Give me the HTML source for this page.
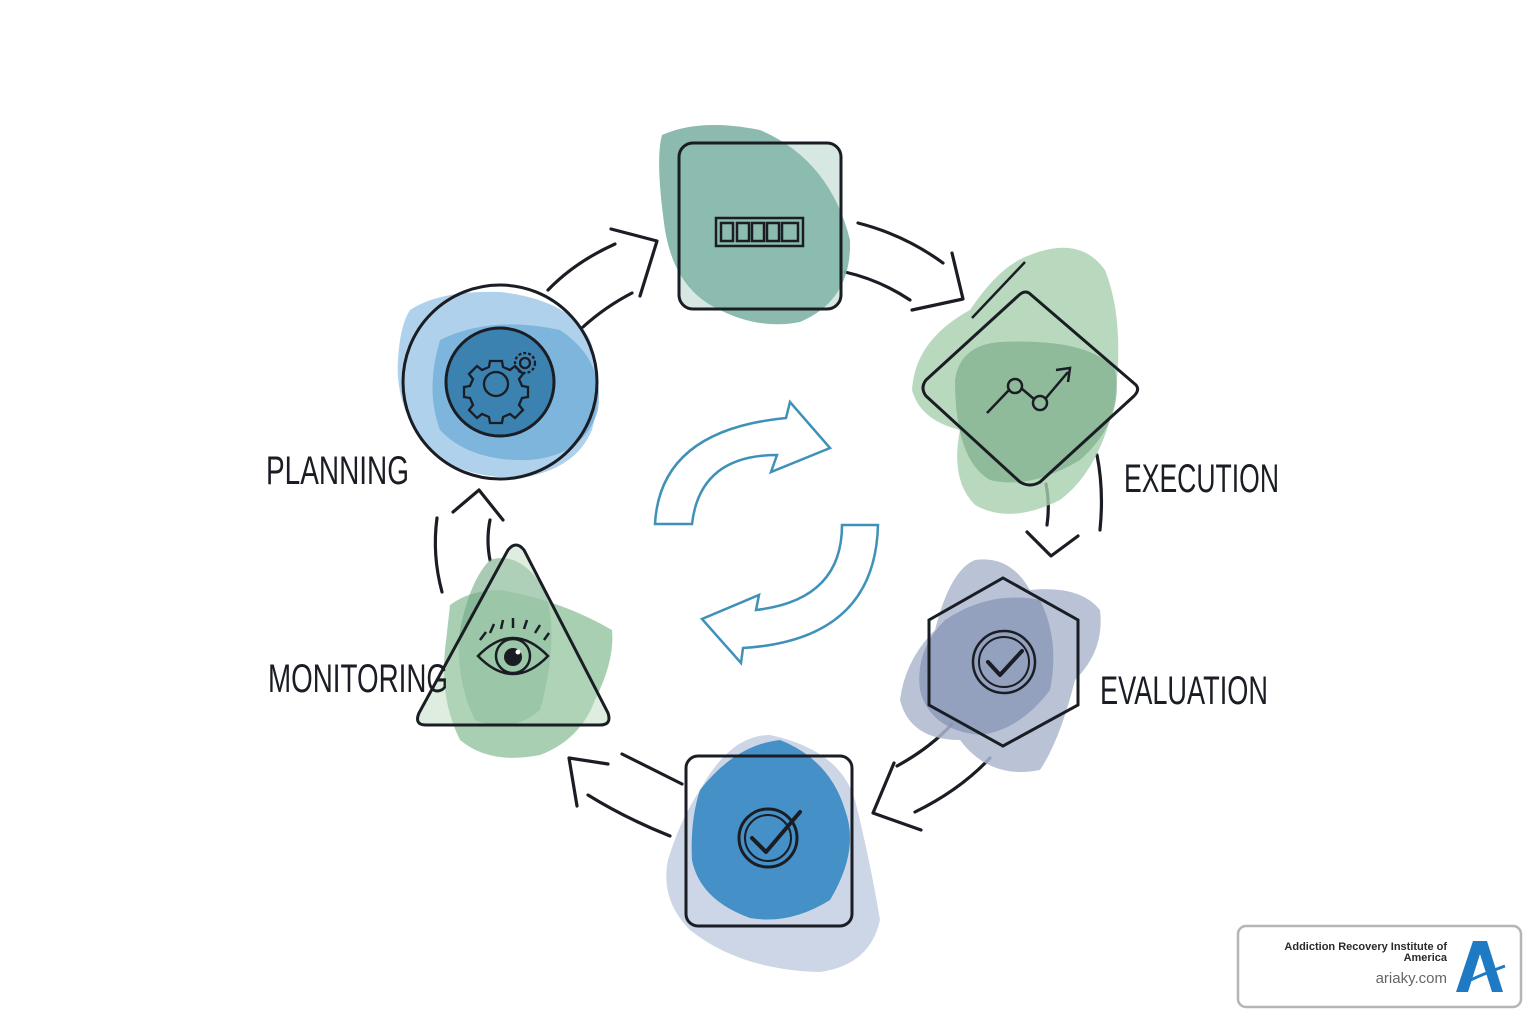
<!DOCTYPE html>
<html><head><meta charset="utf-8"><style>
html,body{margin:0;padding:0;background:#fff;}
svg{display:block}
.lbl{font-family:"Liberation Sans Narrow","Liberation Sans",sans-serif;font-size:40px;fill:#1a1d24;}
</style></head><body>
<svg width="1536" height="1024" viewBox="0 0 1536 1024" xmlns="http://www.w3.org/2000/svg">
<defs>
<filter id="sh" x="-20%" y="-20%" width="140%" height="140%"><feGaussianBlur stdDeviation="6"/></filter>
</defs>
<g fill="none" stroke="#1a1d24" stroke-width="3.2" stroke-linecap="round" stroke-linejoin="round">
<!-- connectors -->
<path d="M548 290 Q575 262 615 244"/>
<path d="M583 327 Q605 307 632 293"/>
<path d="M611 229 L657 241 L640 296"/>
<path d="M858 223 Q905 235 943 263"/>
<path d="M845 272 Q880 280 910 300"/>
<path d="M952 253 L963 299 L912 310"/>
<path d="M1046 484 Q1050 505 1047 525"/>
<path d="M1097 455 Q1104 490 1100 530"/>
<path d="M1027 532 L1051 556 L1078 536"/>
<path d="M952 724 Q930 748 897 766"/>
<path d="M990 758 Q960 790 915 812"/>
<path d="M894 763 L873 813 L921 830"/>
<path d="M682 784 Q650 768 622 754"/>
<path d="M670 836 Q625 818 588 795"/>
<path d="M569 758 L577 806 M569 758 L608 764"/>
<path d="M442 592 Q432 555 437 518"/>
<path d="M490 560 Q486 540 490 520"/>
<path d="M453 512 L479 490 L503 520"/>
</g>

<!-- top square blob -->
<path d="M662 135 Q700 118 760 130 Q830 160 850 240 Q852 300 800 322 Q760 330 720 310 Q675 290 665 230 Q655 160 662 135Z" fill="#7fb3a6" opacity="0.9"/>
<rect x="679" y="143" width="162" height="166" rx="14" fill="#8cbdaf" fill-opacity="0.35" stroke="#1a1d24" stroke-width="3"/>
<g fill="none" stroke="#1a1d24" stroke-width="2.5">
<rect x="716" y="218" width="87" height="28"/>
<rect x="721" y="223" width="12" height="18"/><rect x="737" y="223" width="12" height="18"/><rect x="752" y="223" width="12" height="18"/><rect x="767" y="223" width="12" height="18"/><rect x="782" y="223" width="16" height="18"/>
</g>

<!-- diamond blobs -->
<path d="M1030 255 Q1080 235 1105 270 Q1125 320 1115 400 Q1100 470 1060 500 Q1010 525 975 505 Q950 480 960 430 Q920 420 912 390 Q915 340 970 310 Q1000 265 1030 255Z" fill="#a8cfae" opacity="0.8"/>
<path d="M955 380 Q960 345 1000 342 Q1090 338 1115 370 Q1125 420 1080 460 Q1030 490 990 480 Q955 460 955 380Z" fill="#7fae8c" opacity="0.7"/>
<path d="M1029 293 L1136 385 Q1140 390 1134 396 L1040 482 Q1030 488 1020 482 L926 396 Q920 388 926 380 L1018 296 Q1024 290 1029 293Z" fill="none" stroke="#1a1d24" stroke-width="3"/>
<g fill="none" stroke="#1a1d24" stroke-width="2.5">
<path d="M987 413 L1009 390 M1021 388 L1034 399 M1046 398 L1068 372 M1056 370 L1070 368 L1068 382"/>
<circle cx="1015" cy="386" r="7"/><circle cx="1040" cy="403" r="7"/>
</g>
<path d="M1025 262 L972 318" stroke="#1a1d24" stroke-width="2.5"/>

<!-- planning -->
<path d="M410 310 Q440 290 500 292 Q570 300 590 340 Q605 380 592 430 Q575 470 520 478 Q450 478 420 440 Q395 400 398 360 Q400 325 410 310Z" fill="#9cc6e6" opacity="0.8"/>
<path d="M440 340 Q490 315 560 330 Q605 360 598 410 Q585 455 530 460 Q470 462 440 430 Q425 390 440 340Z" fill="#6aa9d6" opacity="0.7"/>
<circle cx="500" cy="382" r="97" fill="none" stroke="#1a1d24" stroke-width="3"/>
<circle cx="500" cy="382" r="54" fill="#3b82b0" stroke="#1a1d24" stroke-width="3"/>
<g fill="none" stroke="#1a1d24" stroke-width="2.3">
<circle cx="496" cy="384" r="12"/>
<path d="M490 361 L502 361 L503 367 L510 370 L515 366 L523 374 L519 379 L522 386 L528 387 L528 397 L522 398 L519 405 L523 410 L515 418 L510 414 L503 417 L502 423 L490 423 L489 417 L482 414 L477 418 L469 410 L473 405 L470 398 L464 397 L464 387 L470 386 L473 379 L469 374 L477 366 L482 370 L489 367Z"/>
<circle cx="525" cy="363" r="5"/>
<circle cx="525" cy="363" r="10" stroke-dasharray="3 2"/>
</g>

<!-- hexagon -->
<path d="M975 560 Q1010 555 1030 590 Q1080 585 1100 610 Q1105 650 1075 680 Q1060 740 1040 770 Q990 780 960 740 Q910 740 900 700 Q905 660 935 630 Q950 570 975 560Z" fill="#aeb9cf" opacity="0.85"/>
<path d="M945 620 Q990 590 1040 600 Q1060 640 1050 690 Q1020 730 980 735 Q930 730 920 690 Q915 650 945 620Z" fill="#8696b5" opacity="0.75"/>
<path d="M1003 578 L1078 620 L1078 705 L1003 746 L929 705 L929 620Z" fill="none" stroke="#1a1d24" stroke-width="3"/>
<circle cx="1004" cy="662" r="31" fill="none" stroke="#1a1d24" stroke-width="2.5"/>
<circle cx="1004" cy="662" r="25" fill="none" stroke="#1a1d24" stroke-width="2"/>
<path d="M988 662 L1000 675 L1022 651" fill="none" stroke="#1a1d24" stroke-width="4" stroke-linecap="round" stroke-linejoin="round"/>

<!-- bottom square -->
<path d="M700 790 Q730 735 770 735 Q840 750 855 800 Q870 860 880 920 Q870 965 820 972 Q740 970 690 930 Q660 900 668 860 Q680 820 700 790Z" fill="#c3cfe2" opacity="0.85"/>
<path d="M700 790 Q735 745 780 740 Q830 760 845 810 Q860 850 830 900 Q790 925 750 918 Q700 900 692 860 Q690 820 700 790Z" fill="#3d8cc4" opacity="0.95"/>
<rect x="686" y="756" width="166" height="170" rx="12" fill="none" stroke="#1a1d24" stroke-width="3"/>
<circle cx="768" cy="838" r="29" fill="none" stroke="#1a1d24" stroke-width="3"/>
<circle cx="768" cy="838" r="23" fill="none" stroke="#1a1d24" stroke-width="2"/>
<path d="M752 838 L766 852 L800 812" fill="none" stroke="#1a1d24" stroke-width="4" stroke-linecap="round" stroke-linejoin="round"/>

<!-- triangle -->
<path d="M450 605 Q470 590 500 590 Q560 600 612 630 Q615 660 595 700 Q580 740 540 755 Q490 765 460 740 Q440 700 445 650Z" fill="#8cbf99" opacity="0.75"/>
<path d="M490 560 Q520 550 545 590 Q560 640 540 710 Q510 735 475 720 Q455 680 460 630 Q470 580 490 560Z" fill="#6fa886" opacity="0.6"/>
<path d="M508 550 Q516 540 524 550 L608 713 Q612 725 600 725 L426 725 Q414 725 419 713Z" fill="#b5d6bb" fill-opacity="0.45" stroke="#1a1d24" stroke-width="3"/>
<g fill="none" stroke="#1a1d24" stroke-width="2.5">
<path d="M478 656 Q513 620 548 656 Q513 692 478 656Z"/>
<circle cx="513" cy="656" r="17"/>
<path d="M480 640 L486 632 M490 633 L494 624 M501 629 L503 620 M513 628 L513 618 M524 629 L527 620 M535 633 L540 625 M544 640 L549 633"/>
</g>
<circle cx="513" cy="657" r="9" fill="#1a1d24"/>
<circle cx="518" cy="652" r="2.5" fill="#fff"/>

<!-- center arrows -->
<g fill="none" stroke="#3f91b8" stroke-width="2.5" stroke-linejoin="miter">
<path d="M655 524 Q660 430 786 418 L790 402 L830 448 L771 472 L777 455 Q700 455 692 524Z"/>
<path d="M842 525 L878 525 Q875 640 743 648 L741 663 L702 619 L759 595 L756 610 Q842 600 842 525Z"/>
</g>

<!-- labels -->
<text class="lbl" x="266" y="484" textLength="143" lengthAdjust="spacingAndGlyphs">PLANNING</text>
<text class="lbl" x="1124" y="492" textLength="155" lengthAdjust="spacingAndGlyphs">EXECUTION</text>
<text class="lbl" x="1100" y="704" textLength="168" lengthAdjust="spacingAndGlyphs">EVALUATION</text>
<text class="lbl" x="268" y="692" textLength="180" lengthAdjust="spacingAndGlyphs">MONITORING</text>

<!-- logo box -->
<rect x="1238" y="926" width="283" height="81" rx="8" fill="#fff" stroke="#b5b5b5" stroke-width="2.5"/>
<text x="1447" y="950" text-anchor="end" font-family="Liberation Sans, sans-serif" font-size="11" font-weight="bold" fill="#2a2a2a">Addiction Recovery Institute of</text>
<text x="1447" y="961" text-anchor="end" font-family="Liberation Sans, sans-serif" font-size="11" font-weight="bold" fill="#2a2a2a">America</text>
<text x="1447" y="983" text-anchor="end" font-family="Liberation Sans, sans-serif" font-size="15" fill="#666">ariaky.com</text>
<path d="M1456 992 L1473 941 L1487 941 L1503 992 L1492 992 L1480 954 L1468 992Z" fill="#1f7ac4"/>
<path d="M1460 985 Q1480 975 1505 966" stroke="#1f7ac4" stroke-width="3" fill="none"/>
</svg>
</body></html>
